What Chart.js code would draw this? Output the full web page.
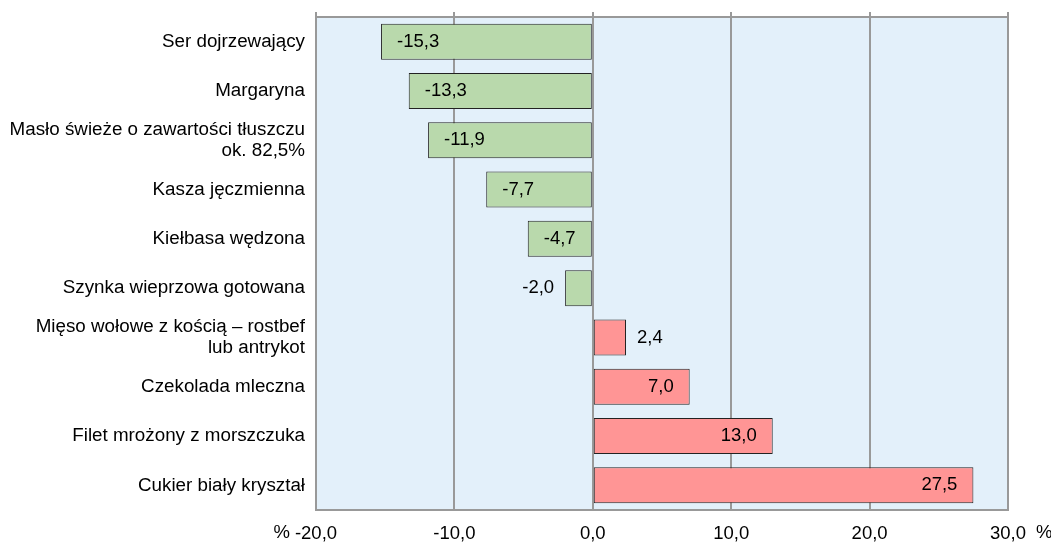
<!DOCTYPE html>
<html>
<head>
<meta charset="utf-8">
<script src="https://cdn.jsdelivr.net/npm/chart.js@4"></script>
<style>
  body { margin:0; background:#fff; }
  #wrap { width:1051px; height:542px; position:relative; }
</style>
</head>
<body>
<div id="wrap"><canvas id="c"></canvas></div>
<script>
// ---------- data ----------
const categories = [
  'Ser dojrzewający',
  'Margaryna',
  ['Masło świeże o zawartości tłuszczu', 'ok. 82,5%'],
  'Kasza jęczmienna',
  'Kiełbasa wędzona',
  'Szynka wieprzowa gotowana',
  ['Mięso wołowe z kością – rostbef', 'lub antrykot'],
  'Czekolada mleczna',
  'Filet mrożony z morszczuka',
  'Cukier biały kryształ'
];
const changes = [-15.3, -13.3, -11.9, -7.7, -4.7, -2.0, 2.4, 7.0, 13.0, 27.5];
const xTicks  = [-20, -10, 0, 10, 20, 30];
const unit    = '%';

const FONT = 'Liberation Sans, Arial, sans-serif';
const fmt  = v => v.toFixed(1).replace('.', ',');

// background, frame, top tick marks, % signs, bar labels
const deco = {
  id: 'deco',
  beforeDraw(ch) {
    const { ctx, chartArea: a } = ch;
    ctx.save();
    ctx.fillStyle = '#e3f0fa';
    ctx.fillRect(a.left, a.top, a.right - a.left, a.bottom - a.top);
    ctx.restore();
  },
  afterDraw(ch) {
    const { ctx, chartArea: a } = ch;
    const xs = ch.scales.x;
    ctx.save();
    ctx.strokeStyle = '#999';
    ctx.lineWidth = 2;
    ctx.strokeRect(a.left, a.top, a.right - a.left, a.bottom - a.top);
    ctx.beginPath();
    xTicks.forEach(t => {
      const px = Math.round(xs.getPixelForValue(t));
      ctx.moveTo(px, a.top - 5);
      ctx.lineTo(px, a.top);
    });
    ctx.stroke();

    // unit signs beside the first and last tick label
    ctx.fillStyle = '#000';
    ctx.font = '18.5px ' + FONT;
    ctx.textBaseline = 'middle';
    const ly = a.bottom + 23;
    ctx.textAlign = 'right';
    ctx.fillText(unit, xs.getPixelForValue(xTicks[0]) - 26, ly);
    ctx.textAlign = 'left';
    ctx.fillText(unit, xs.getPixelForValue(xTicks[xTicks.length - 1]) + 28, ly);

    // value labels
    ch.getDatasetMeta(0).data.forEach((bar, i) => {
      const v = changes[i];
      const w = Math.abs(bar.x - bar.base);
      const txt = fmt(v);
      if (w > 45) {
        ctx.textAlign = v < 0 ? 'left' : 'right';
        ctx.fillText(txt, bar.x + (v < 0 ? 16 : -16), bar.y);
      } else {
        ctx.textAlign = v < 0 ? 'right' : 'left';
        ctx.fillText(txt, bar.x + (v < 0 ? -11 : 11), bar.y);
      }
    });
    ctx.restore();
  }
};

new Chart(document.getElementById('c'), {
  type: 'bar',
  data: {
    labels: categories,
    datasets: [{
      data: changes,
      backgroundColor: changes.map(v => v < 0 ? '#b9d9ac' : '#ff9595'),
      borderColor: '#222',
      borderWidth: 1,
      borderSkipped: false,
      barPercentage: 0.73,
      categoryPercentage: 1
    }]
  },
  options: {
    indexAxis: 'y',
    responsive: true,
    maintainAspectRatio: false,
    animation: false,
    layout: { padding: { top: 17, right: 43, left: 0, bottom: 0 } },
    plugins: { legend: { display: false }, tooltip: { enabled: false } },
    scales: {
      x: {
        min: -20, max: 30,
        afterBuildTicks: s => { s.ticks = xTicks.map(v => ({ value: v })); },
        afterFit: s => { s.height = 32; s.paddingLeft = 0; s.paddingRight = 0; },
        grid: { color: '#999', lineWidth: 2, drawTicks: false },
        border: { display: false },
        ticks: { color: '#000', font: { family: FONT, size: 18.5 }, padding: 13,
                 maxRotation: 0, callback: v => fmt(v) }
      },
      y: {
        afterFit: s => { s.width = 316; s.paddingTop = 0; s.paddingBottom = 0; },
        grid: { display: false, drawTicks: false },
        border: { display: false },
        ticks: { color: '#000', font: { family: FONT, size: 18.8, lineHeight: 1.1 }, padding: 11 }
      }
    }
  },
  plugins: [deco]
});
</script>
</body>
</html>
